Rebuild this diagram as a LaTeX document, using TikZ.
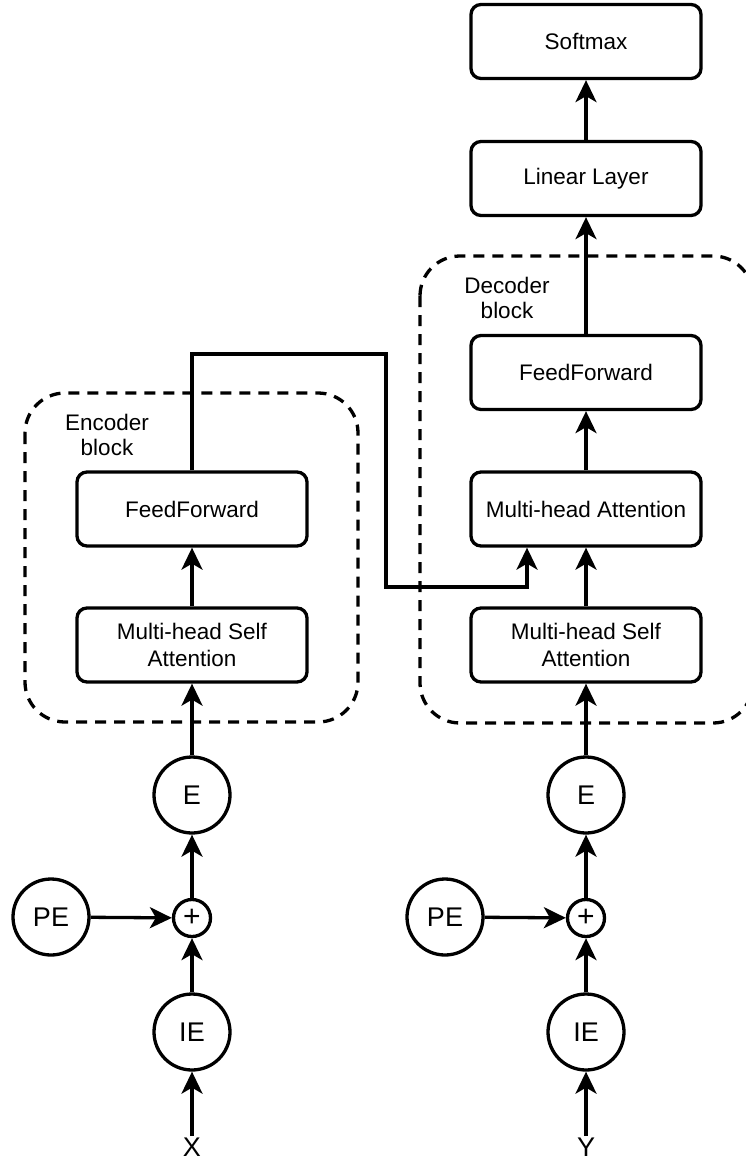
\documentclass[tikz,border=0pt]{standalone}
\usepackage{fontspec}
\setmainfont{Liberation Sans}
\usetikzlibrary{arrows.meta,calc}

\tikzset{
  layerbox/.style={draw, line width=3.3pt, rounded corners=10pt,
    minimum width=230pt, minimum height=74pt, align=center,
    font=\fontsize{22.5}{27}\selectfont, inner sep=0pt},
  embed/.style={draw, circle, line width=3.3pt, minimum size=76pt,
    inner sep=0pt, font=\fontsize{27}{32}\selectfont},
  adder/.style={draw, circle, line width=3.3pt, minimum size=37pt,
    inner sep=0pt, font=\fontsize{30}{34}\selectfont},
  seqlabel/.style={inner sep=1.5pt, font=\fontsize{27}{32}\selectfont},
  blocklabel/.style={align=center, inner sep=0pt,
    font=\fontsize{22.5}{25.5}\selectfont},
  blockframe/.style={draw, dashed, dash pattern=on 11pt off 8pt,
    line width=3.3pt, rounded corners=40pt},
  flow/.style={line width=3.3pt,
    -{Stealth[length=22pt,width=21pt,inset=6pt]}},
}

\begin{document}
\begin{tikzpicture}[x=1pt,y=-1pt]
  \useasboundingbox (0,0) rectangle (746,1167);
  \clip (0,0) rectangle (746,1167);

  % dashed block frames
  \draw[blockframe] (25,393) rectangle (358,722);
  \draw[blockframe] (420,256) rectangle (753,723);
  \node[blocklabel] (enclabel) at (107,435) {Encoder\\block};
  \node[blocklabel] (declabel) at (507,298) {Decoder\\block};

  % encoder column
  \node[layerbox] (encFF)   at (192,509) {FeedForward};
  \node[layerbox] (encMHSA) at (192,645) {Multi-head Self\\Attention};
  \node[embed]    (encE)    at (192,795) {E};
  \node[adder]    (encAdd)  at (192,918) {+};
  \node[embed]    (encPE)   at (51,917)  {PE};
  \node[embed]    (encIE)   at (192,1032) {IE};
  \node[seqlabel] (X)       at (192,1147) {X};

  % decoder column
  \node[layerbox] (softmax) at (586,41.5)  {Softmax};
  \node[layerbox] (linear)  at (586,178.5) {Linear Layer};
  \node[layerbox] (decFF)   at (586,372.5) {FeedForward};
  \node[layerbox] (decMHA)  at (586,509)   {Multi-head Attention};
  \node[layerbox] (decMHSA) at (586,645)   {Multi-head Self\\Attention};
  \node[embed]    (decE)    at (586,795) {E};
  \node[adder]    (decAdd)  at (586,918) {+};
  \node[embed]    (decPE)   at (445,917) {PE};
  \node[embed]    (decIE)   at (586,1032) {IE};
  \node[seqlabel] (Y)       at (586,1147) {Y};

  % encoder connections
  \draw[flow] (X) -- (encIE);
  \draw[flow] (encIE) -- (encAdd);
  \draw[flow] (encPE) -- (encAdd);
  \draw[flow] (encAdd) -- (encE);
  \draw[flow] (encE) -- (encMHSA);
  \draw[flow] (encMHSA) -- (encFF);

  % decoder connections
  \draw[flow] (Y) -- (decIE);
  \draw[flow] (decIE) -- (decAdd);
  \draw[flow] (decPE) -- (decAdd);
  \draw[flow] (decAdd) -- (decE);
  \draw[flow] (decE) -- (decMHSA);
  \draw[flow] (decMHSA) -- (decMHA);
  \draw[flow] (decMHA) -- (decFF);
  \draw[flow] (decFF) -- (linear);
  \draw[flow] (linear) -- (softmax);

  % encoder output routed into the decoder attention
  \coordinate (bendTop) at (386,354);
  \coordinate (bendLow) at (386,587);
  \draw[flow] (encFF.north) |- (bendTop) -- (bendLow)
    -| ($(decMHA.south)+(-59,0)$);
\end{tikzpicture}
\end{document}
